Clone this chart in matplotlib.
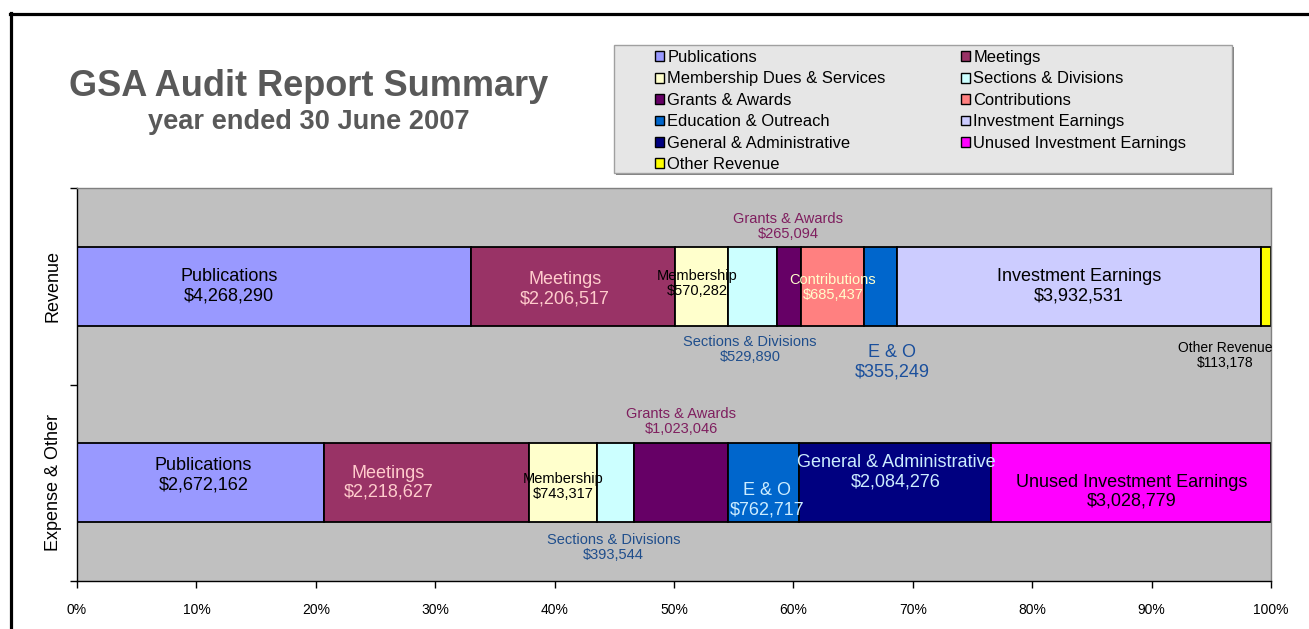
import matplotlib
matplotlib.use("Agg")
import matplotlib.pyplot as plt
from matplotlib.patches import Patch, Rectangle
from matplotlib.lines import Line2D

plt.rcParams['font.family'] = ['Liberation Sans', 'DejaVu Sans']

# ---------------- data ----------------
series = ["Publications", "Meetings", "Membership Dues & Services", "Sections & Divisions",
          "Grants & Awards", "Contributions", "Education & Outreach", "Investment Earnings",
          "General & Administrative", "Unused Investment Earnings", "Other Revenue"]
short_names = ["Publications", "Meetings", "Membership", "Sections & Divisions",
               "Grants & Awards", "Contributions", "E & O", "Investment Earnings",
               "General & Administrative", "Unused Investment Earnings", "Other Revenue"]
colors = ["#9999FF", "#993366", "#FFFFCC", "#CCFFFF", "#660066", "#FF8080",
          "#0066CC", "#CCCCFF", "#000080", "#FF00FF", "#FFFF00"]
categories = ["Expense & Other", "Revenue"]
revenue = [4268290, 2206517, 570282, 529890, 265094, 685437, 355249, 3932531, 0, 0, 113178]
expense = [2672162, 2218627, 743317, 393544, 1023046, 0, 762717, 0, 2084276, 3028779, 0]
x_ticks = [0, 0.1, 0.2, 0.3, 0.4, 0.5, 0.6, 0.7, 0.8, 0.9, 1.0]
x_tick_labels = ["0%", "10%", "20%", "30%", "40%", "50%", "60%", "70%", "80%", "90%", "100%"]

# label styles: (dx px, dy px, color, fontsize) per series index
BLUE = "#1F4E8C"
MAROON = "#7F1F5F"
LIGHT = "#CCECFF"
PINK = "#FFCCCC"
rev_style = {
    0: (-45, 0, "black", 13),
    1: (-8, -3, PINK, 13),
    2: (-4, 3, "black", 10.5),
    3: (-2, -63.5, BLUE, 10.5),
    4: (-1, 59.5, MAROON, 10.5),
    5: (0, -1.5, "#FFFFCC", 10.5),
    6: (11, -76, "#1A4F9C", 13),
    7: (0, 0, "black", 13),
    10: (-41, -69, "black", 10),
}
exp_style = {
    0: (3, 7.5, "black", 13),
    1: (-38, 0, PINK, 13),
    2: (0, -4, "black", 10.5),
    3: (-2, -65, BLUE, 10.5),
    4: (0, 61.5, MAROON, 10.5),
    6: (4, -17.5, LIGHT, 13),
    8: (1, 10.5, LIGHT, 13),
    9: (1, -9, "black", 13),
}

W, H = 1309, 629
fig = plt.figure(figsize=(W / 100, H / 100), dpi=100)
ax = fig.add_axes([77 / W, 1 - 581 / H, (1271 - 77) / W, (581 - 188) / H])
ax.set_facecolor("#C0C0C0")

bar_h = 0.40
rows = [(0, expense, exp_style), (1, revenue, rev_style)]
for ypos, vals, style in rows:
    total = float(sum(vals))
    left = 0.0
    for i, v in enumerate(vals):
        if v == 0:
            continue
        frac = v / total
        ax.barh(ypos, frac, left=left, height=bar_h, color=colors[i],
                edgecolor="black", linewidth=1.3, zorder=2)
        if i in style:
            dx, dy, col, fs = style[i]
            ax.annotate(f"{short_names[i]}\n${v:,}", xy=(left + frac / 2, ypos),
                        xycoords="data", xytext=(dx, dy), textcoords="offset pixels",
                        ha="center", va="center", multialignment="center",
                        color=col, fontsize=fs, linespacing=1.12, zorder=5)
        left += frac

ax.set_xlim(0, 1)
ax.set_ylim(-0.5, 1.5)
ax.set_xticks(x_ticks)
ax.set_xticklabels(x_tick_labels, fontsize=10)
ax.tick_params(axis="x", direction="out", length=5, width=1, pad=11)
ax.set_yticks([-0.5, 0.5, 1.5])
ax.set_yticklabels(["", "", ""])
ax.tick_params(axis="y", which="major", direction="out", length=5, width=1)
ax.set_yticks([0, 1], minor=True)
ax.set_yticklabels(categories, minor=True, rotation=90, va="center", fontsize=13)
ax.tick_params(axis="y", which="minor", length=0, pad=11)
for s in ["left", "bottom"]:
    ax.spines[s].set_color("black")
    ax.spines[s].set_linewidth(1)
for s in ["top", "right"]:
    ax.spines[s].set_color("#808080")
    ax.spines[s].set_linewidth(1)

# titles
fig.text(309 / W, 1 - 87 / H, "GSA Audit Report Summary", ha="center", va="center",
         fontsize=26, fontweight="bold", color="#595959")
fig.text(309 / W, 1 - 122 / H, "year ended 30 June 2007", ha="center", va="center",
         fontsize=19.6, fontweight="bold", color="#595959")

# legend frame
fig.patches.append(Rectangle((616 / W, 1 - 175 / H), 618 / W, 128 / H, transform=fig.transFigure,
                             facecolor="#808080", edgecolor="none", zorder=0))
fig.patches.append(Rectangle((614 / W, 1 - 173 / H), 618 / W, 128 / H, transform=fig.transFigure,
                             facecolor="#E6E6E6", edgecolor="#A0A0A0", linewidth=1, zorder=1))
handles = [Patch(facecolor=colors[i], edgecolor="black", linewidth=1) for i in range(len(series))]
# order so that legend reads row-wise (two columns)
order = [0, 2, 4, 6, 8, 10, 1, 3, 5, 7, 9]
leg = fig.legend([handles[i] for i in order], [series[i] for i in order],
                 loc="upper left", bbox_to_anchor=(655 / W, 1 - 50 / H), ncol=2,
                 frameon=False, fontsize=11.9, handlelength=0.55, handleheight=0.55,
                 handletextpad=0.2, labelspacing=0.39, columnspacing=4.55, borderpad=0,
                 borderaxespad=0)
leg.set_zorder(3)

# outer border lines
fig.add_artist(Line2D([10 / W, 1], [1 - 14 / H, 1 - 14 / H], transform=fig.transFigure,
                      color="black", linewidth=2.3))
fig.add_artist(Line2D([11 / W, 11 / W], [0, 1 - 13 / H], transform=fig.transFigure,
                      color="black", linewidth=2.3))

fig.savefig("out.png", dpi=100)
